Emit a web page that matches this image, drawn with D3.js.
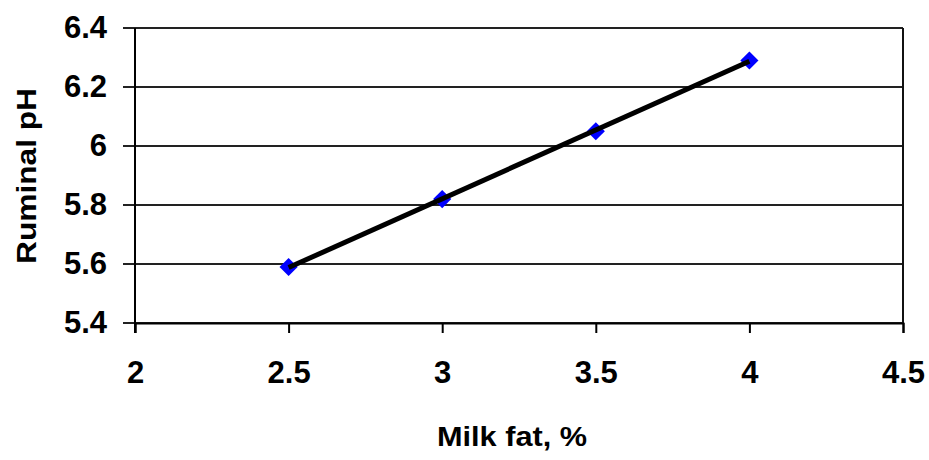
<!DOCTYPE html>
<html>
<head>
<meta charset="utf-8">
<script src="https://cdn.jsdelivr.net/npm/d3@7"></script>
<style>
  body { margin: 0; background: #fff; }
  text { font-family: "Liberation Sans", Arial, sans-serif; font-weight: bold; fill: #000; }
</style>
</head>
<body>
<div id="chart"></div>
<script>
// chart data
var milkFat = [2.5, 3, 3.5, 4];
var ruminalPH = [5.59, 5.82, 6.05, 6.29];
var xTicks = [2, 2.5, 3, 3.5, 4, 4.5];
var yTicks = [5.4, 5.6, 5.8, 6, 6.2, 6.4];

var svgWidth = 929;
var svgHeight = 460;

var margin = { top: 28, right: 26, bottom: 137, left: 135 };
var width = svgWidth - margin.left - margin.right;
var height = svgHeight - margin.top - margin.bottom;

var svg = d3.select("#chart")
  .append("svg")
  .attr("width", svgWidth)
  .attr("height", svgHeight);

var chartGroup = svg.append("g")
  .attr("transform", `translate(${margin.left}, ${margin.top})`);

var xScale = d3.scaleLinear().domain([2, 4.5]).range([0, width]);
var yScale = d3.scaleLinear().domain([5.4, 6.4]).range([height, 0]);

// horizontal gridlines with left tick marks
chartGroup.append("g")
  .selectAll("line")
  .data(yTicks)
  .enter()
  .append("line")
  .attr("x1", -12)
  .attr("x2", width)
  .attr("y1", d => yScale(d))
  .attr("y2", d => yScale(d))
  .attr("stroke", "#222")
  .attr("stroke-width", 2);

// right border
chartGroup.append("line")
  .attr("x1", width).attr("x2", width)
  .attr("y1", 0).attr("y2", height)
  .attr("stroke", "#111")
  .attr("stroke-width", 2);

// x axis
var bottomAxis = d3.axisBottom(xScale)
  .tickValues(xTicks)
  .tickSize(10)
  .tickPadding(28)
  .tickFormat(d3.format("~g"));

var xAxis = chartGroup.append("g")
  .attr("transform", `translate(0, ${height})`)
  .call(bottomAxis);

xAxis.select(".domain").attr("stroke", "#000").attr("stroke-width", 2);
xAxis.selectAll(".tick line").attr("stroke", "#000").attr("stroke-width", 2);
xAxis.selectAll(".tick text")
  .attr("font-size", 31)
  .attr("font-family", null)
  .attr("fill", "#000");

// y axis line
chartGroup.append("line")
  .attr("x1", 0).attr("x2", 0)
  .attr("y1", 0).attr("y2", height + 10)
  .attr("stroke", "#000")
  .attr("stroke-width", 2);

// y tick labels
chartGroup.append("g")
  .selectAll("text")
  .data(yTicks)
  .enter()
  .append("text")
  .attr("x", -28)
  .attr("y", d => yScale(d))
  .attr("dy", 10)
  .attr("text-anchor", "end")
  .attr("font-size", 31)
  .text(d => d3.format("~g")(d));

// data markers (blue diamonds)
var points = milkFat.map((d, i) => ({ x: d, y: ruminalPH[i] }));

chartGroup.selectAll("path.marker")
  .data(points)
  .enter()
  .append("path")
  .attr("class", "marker")
  .attr("d", d3.symbol().type(d3.symbolDiamond2).size(210))
  .attr("transform", d => `translate(${xScale(d.x)}, ${yScale(d.y)})`)
  .attr("fill", "#0000ff");

// linear trendline fitted to the points
var xMean = d3.mean(milkFat);
var yMean = d3.mean(ruminalPH);
var slope = d3.sum(points, d => (d.x - xMean) * (d.y - yMean)) /
  d3.sum(points, d => (d.x - xMean) * (d.x - xMean));
var intercept = yMean - slope * xMean;
var xExtent = d3.extent(milkFat);

chartGroup.append("line")
  .attr("x1", xScale(xExtent[0]))
  .attr("y1", yScale(intercept + slope * xExtent[0]))
  .attr("x2", xScale(xExtent[1]))
  .attr("y2", yScale(intercept + slope * xExtent[1]))
  .attr("stroke", "#000")
  .attr("stroke-width", 5);

// axis titles
svg.append("text")
  .attr("x", 512)
  .attr("y", 446)
  .attr("text-anchor", "middle")
  .attr("font-size", 27)
  .attr("textLength", 150)
  .attr("lengthAdjust", "spacingAndGlyphs")
  .text("Milk fat, %");

svg.append("text")
  .attr("transform", "translate(36, 176) rotate(-90)")
  .attr("text-anchor", "middle")
  .attr("font-size", 27)
  .attr("textLength", 176)
  .attr("lengthAdjust", "spacingAndGlyphs")
  .text("Ruminal pH");
</script>
</body>
</html>
